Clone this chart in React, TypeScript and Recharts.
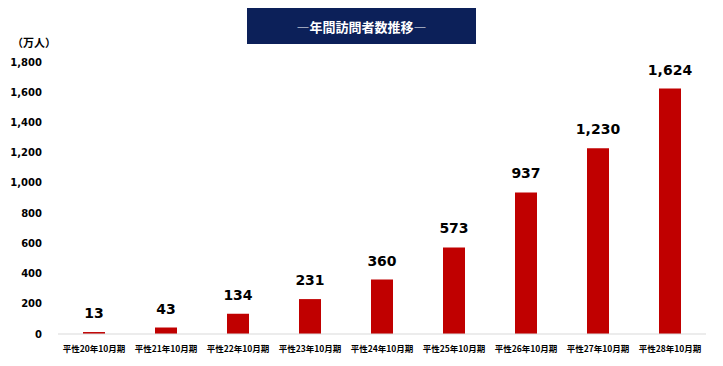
import { BarChart, Bar, XAxis, YAxis, LabelList } from 'recharts';

const periods = [
  '平性20年10月期',
  '平性21年10月期',
  '平性22年10月期',
  '平性23年10月期',
  '平性24年10月期',
  '平性25年10月期',
  '平性26年10月期',
  '平性27年10月期',
  '平性28年10月期',
];
const visitors = [13, 43, 134, 231, 360, 573, 937, 1230, 1624];
const yTicks = [0, 200, 400, 600, 800, 1000, 1200, 1400, 1600, 1800];

const data = periods.map((p, i) => ({ period: p, visitors: visitors[i] }));

const numFont = '"DejaVu Sans", Verdana, sans-serif';
const jpFont = '"Noto Sans CJK JP", sans-serif';

export default function App() {
  return (
    <div style={{ position: 'absolute', left: 0, top: 0, width: 723, height: 366, background: '#fff' }}>
      <div
        style={{
          position: 'absolute',
          left: 247,
          top: 8,
          width: 229,
          height: 36,
          background: '#0c2059',
          color: '#fff',
          fontFamily: jpFont,
          fontWeight: 700,
          fontSize: 13,
          display: 'flex',
          alignItems: 'center',
          justifyContent: 'center',
        }}
      >
        ―年間訪問者数推移―
      </div>
      <div
        style={{
          position: 'absolute',
          left: 12,
          top: 34,
          fontFamily: jpFont,
          fontWeight: 700,
          fontSize: 11,
          color: '#000',
        }}
      >
        （万人）
      </div>
      <BarChart width={723} height={366} data={data} margin={{ top: 62, right: 17, bottom: 2, left: 8 }}>
        <XAxis
          dataKey="period"
          height={30}
          axisLine={{ stroke: '#d9d9d9' }}
          tickLine={false}
          interval={0}
          tickMargin={6}
          tick={{ fontSize: 8.5, fontWeight: 700, fill: '#000', fontFamily: jpFont }}
        />
        <YAxis
          width={50}
          domain={[0, 1800]}
          ticks={yTicks}
          axisLine={false}
          tickLine={false}
          tickSize={0}
          tickMargin={16}
          tickFormatter={(v: number) => v.toLocaleString('en-US')}
          tick={{ fontSize: 10, fontWeight: 700, fill: '#000', fontFamily: numFont }}
        />
        <Bar dataKey="visitors" fill="#c00000" barSize={22} isAnimationActive={false}>
          <LabelList
            dataKey="visitors"
            position="top"
            offset={14}
            formatter={(v: number) => v.toLocaleString('en-US')}
            style={{ fontSize: 14, fontWeight: 700, fill: '#000', fontFamily: numFont }}
          />
        </Bar>
      </BarChart>
    </div>
  );
}
